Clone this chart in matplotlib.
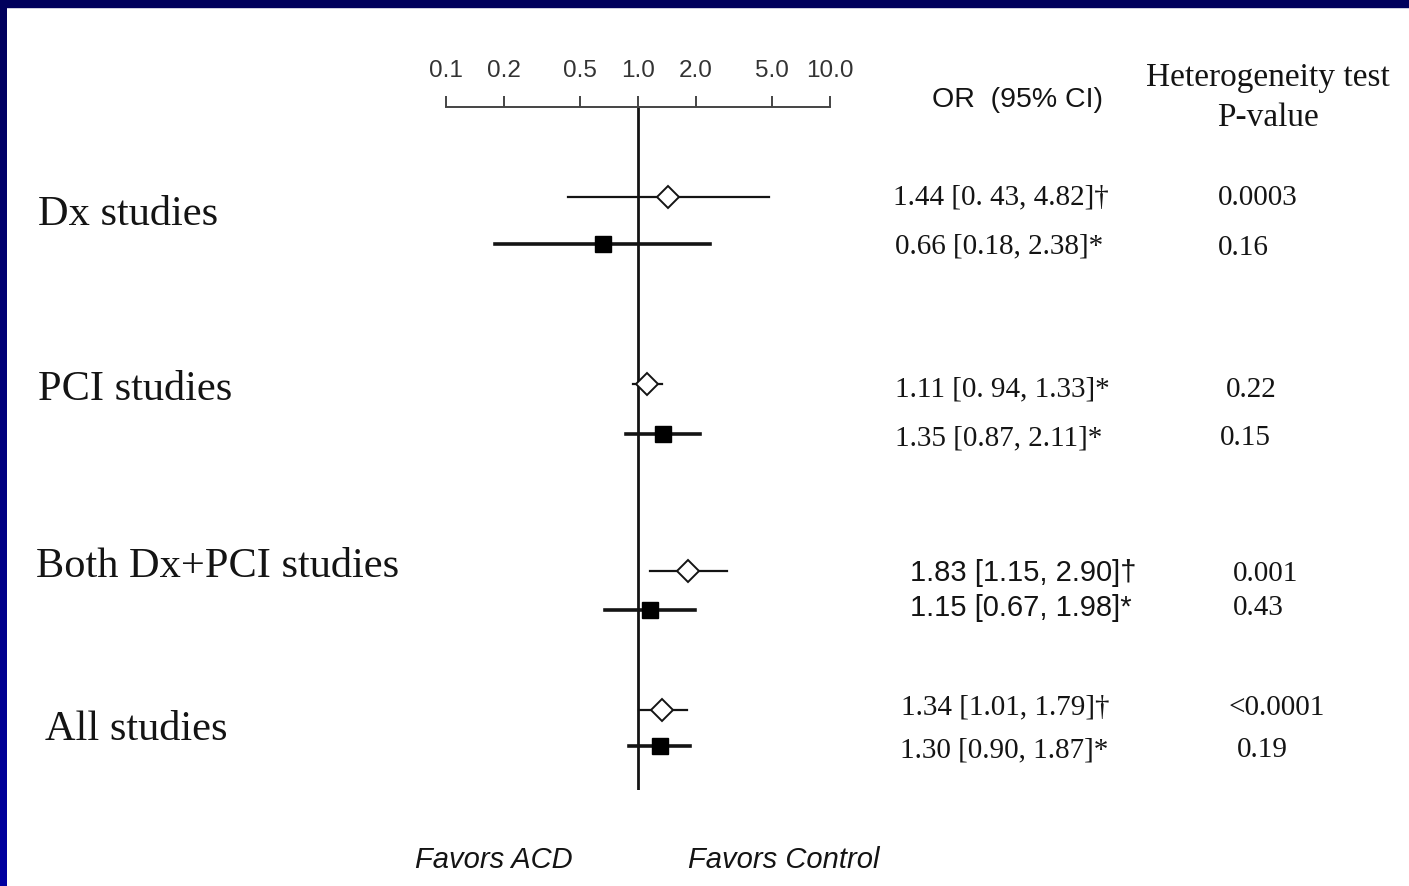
import numpy as np
import matplotlib
matplotlib.use("Agg")
import matplotlib.pyplot as plt
from matplotlib.patches import Rectangle

# %% data
groups = ["Dx studies", "PCI studies", "Both Dx+PCI studies", "All studies"]
# open diamond = (†), filled square = (*)
or_diamond = [1.44, 1.11, 1.83, 1.34]
lo_diamond = [0.43, 0.94, 1.15, 1.01]
hi_diamond = [4.82, 1.33, 2.90, 1.79]
or_square = [0.66, 1.35, 1.15, 1.30]
lo_square = [0.18, 0.87, 0.67, 0.90]
hi_square = [2.38, 2.11, 1.98, 1.87]
ci_text = ["1.44 [0. 43, 4.82]†", "0.66 [0.18, 2.38]*",
           "1.11 [0. 94, 1.33]*", "1.35 [0.87, 2.11]*",
           "1.83 [1.15, 2.90]†", "1.15 [0.67, 1.98]*",
           "1.34 [1.01, 1.79]†", "1.30 [0.90, 1.87]*"]
p_values = ["0.0003", "0.16", "0.22", "0.15", "0.001", "0.43", "<0.0001", "0.19"]
tick_vals = [0.1, 0.2, 0.5, 1.0, 2.0, 5.0, 10.0]
tick_labels = ["0.1", "0.2", "0.5", "1.0", "2.0", "5.0", "10.0"]

# %% layout (pixel rows)
W, H = 1409, 886
y_diamond = [197, 384, 571, 710]
y_square = [244, 434, 610, 746]
label_pos = [(38, 215), (38, 390), (36, 567), (45, 730)]
ci_pos = [(893, 197), (895, 246), (895, 389), (895, 438),
          (910, 573), (910, 608), (901, 707), (900, 750)]
p_pos = [(1218, 198), (1218, 248), (1226, 390), (1220, 438),
         (1233, 574), (1233, 608), (1228, 708), (1237, 750)]
ink = "#141414"

fig = plt.figure(figsize=(W / 100, H / 100), dpi=100)
fig.patch.set_facecolor("white")

def fx(x):
    return x / W

def fy(y):
    return 1 - y / H

# forest axes: 0.1 -> px 446, 10 -> px 830, top spine at px 107
ax = fig.add_axes([fx(446), fy(790), (830 - 446) / W, (790 - 107) / H])
ax.set_xscale("log")
ax.set_xlim(0.1, 10)
ax.set_ylim(790, 107)
ax.patch.set_alpha(0)
for s in ["left", "right", "bottom"]:
    ax.spines[s].set_visible(False)
ax.spines["top"].set_color("#444444")
ax.spines["top"].set_linewidth(1.4)
ax.xaxis.set_ticks_position("top")
ax.set_xticks(tick_vals)
ax.set_xticklabels(tick_labels, fontsize=17.5, color="#333333", family="Liberation Sans")
ax.xaxis.set_minor_locator(matplotlib.ticker.NullLocator())
ax.tick_params(axis="x", direction="out", length=8, width=1.4, color="#444444", pad=10)
ax.set_yticks([])

ax.axvline(1.0, color=ink, lw=2)

for i in range(len(groups)):
    ax.plot([lo_diamond[i], hi_diamond[i]], [y_diamond[i]] * 2, color=ink, lw=1.6, zorder=2)
    ax.plot(or_diamond[i], y_diamond[i], marker="D", ms=11, mfc="white", mec=ink, mew=1.4, zorder=3)
    ax.plot([lo_square[i], hi_square[i]], [y_square[i]] * 2, color=ink, lw=2.6, zorder=2)
    ax.plot(or_square[i], y_square[i], marker="s", ms=12, color="black", zorder=3)

# group labels
for g, (x, y) in zip(groups, label_pos):
    fig.text(fx(x), fy(y), g, fontsize=30.5, family="Liberation Serif", color=ink, va="center")

# OR column
fig.text(fx(932), fy(100), "OR  (95% CI)", fontsize=20.5, family="Liberation Sans", color=ink, va="center")
for k, (t, (x, y)) in enumerate(zip(ci_text, ci_pos)):
    fam = "Liberation Sans" if k in (4, 5) else "Liberation Serif"
    fig.text(fx(x), fy(y), t, fontsize=21, family=fam, color=ink, va="center")

# heterogeneity column
fig.text(fx(1268), fy(78), "Heterogeneity test", fontsize=24, family="Liberation Serif",
         color=ink, va="center", ha="center")
fig.text(fx(1268), fy(118), "P-value", fontsize=24, family="Liberation Serif",
         color=ink, va="center", ha="center")
for t, (x, y) in zip(p_values, p_pos):
    fig.text(fx(x), fy(y), t, fontsize=21, family="Liberation Serif", color=ink, va="center")

# favors labels
fig.text(fx(415), fy(860), "Favors ACD", fontsize=21, family="Liberation Sans", style="italic",
         color=ink, va="center")
fig.text(fx(688), fy(860), "Favors Control", fontsize=21, family="Liberation Sans", style="italic",
         color=ink, va="center")

# navy frame (top + left)
fig.patches.append(Rectangle((0, fy(7)), 1, 7 / H, transform=fig.transFigure,
                             color="#00005c", zorder=10))
bar = fig.add_axes([0, 0, fx(7), 1])
bar.imshow(np.linspace(0, 1, 100).reshape(-1, 1), aspect="auto",
           cmap=matplotlib.colors.LinearSegmentedColormap.from_list("nv", ["#00005c", "#0000a0"]))
bar.set_axis_off()

fig.savefig("out.png", dpi=100)
